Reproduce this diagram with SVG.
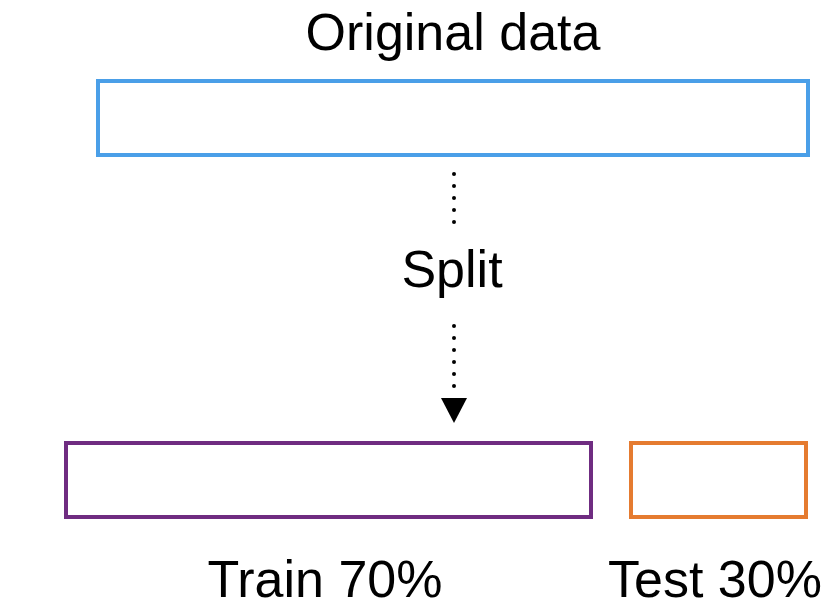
<svg xmlns="http://www.w3.org/2000/svg" width="832" height="614" viewBox="0 0 832 614">
<style>
text{font-family:"Liberation Sans",Arial,sans-serif;font-size:52px;fill:#000;text-anchor:middle}
.box{fill:#fff;stroke-width:4}
.dot{stroke:#000;stroke-width:4;stroke-linecap:round;stroke-dasharray:0 12;fill:none}
</style>
<rect width="832" height="614" fill="#fff"/>
<g id="original"><rect class="box" x="98" y="81" width="710" height="74" stroke="#4A9FE8"/><text x="453" y="50">Original data</text></g>
<g id="split"><text x="452" y="287">Split</text></g>
<g id="train"><rect class="box" x="66" y="443" width="525" height="74" stroke="#6F2C81"/><text x="325" y="597">Train 70%</text></g>
<g id="test"><rect class="box" x="631" y="443" width="175" height="74" stroke="#E57B30"/><text x="715" y="597">Test 30%</text></g>
<g id="connectors">
<line class="dot" x1="454" y1="174" x2="454" y2="230"/>
<line class="dot" x1="454" y1="326" x2="454" y2="398"/>
<path d="M441,398 L467,398 L454,423 Z" fill="#000"/>
</g>
</svg>
